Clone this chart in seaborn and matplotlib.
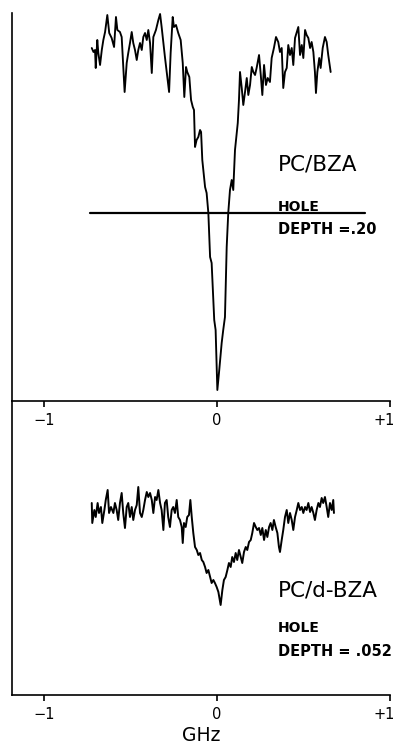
import numpy as np
import pandas as pd
import matplotlib
matplotlib.use("Agg")
import matplotlib.pyplot as plt
import matplotlib.transforms as mtransforms
import seaborn as sns

# ---- data: frequency offset (GHz) and signal (arbitrary units) ----
top_ghz = [-0.724, -0.714, -0.705, -0.701, -0.692, -0.686, -0.676, -0.666, -0.657, -0.647,
           -0.634, -0.623, -0.609, -0.595, -0.584, -0.576, -0.561, -0.551, -0.542, -0.534,
           -0.522, -0.513, -0.503, -0.493, -0.484, -0.474, -0.464, -0.455, -0.445, -0.435,
           -0.426, -0.416, -0.406, -0.397, -0.387, -0.377, -0.368, -0.353, -0.339, -0.329,
           -0.320, -0.310, -0.301, -0.287, -0.277, -0.268, -0.256, -0.249, -0.237, -0.224,
           -0.210, -0.198, -0.189, -0.179, -0.172, -0.160, -0.150, -0.140, -0.133, -0.127,
           -0.118, -0.108, -0.098, -0.092, -0.085, -0.069, -0.060, -0.050, -0.040, -0.031,
           -0.016, -0.008, 0.002, 0.013, 0.027, 0.036, 0.046, 0.056, 0.065, 0.075,
           0.085, 0.094, 0.104, 0.120, 0.127, 0.133, 0.143, 0.152, 0.162, 0.172,
           0.181, 0.191, 0.201, 0.210, 0.220, 0.229, 0.243, 0.253, 0.262, 0.272,
           0.283, 0.293, 0.306, 0.316, 0.329, 0.341, 0.354, 0.364, 0.374, 0.383,
           0.393, 0.403, 0.412, 0.422, 0.432, 0.441, 0.451, 0.461, 0.470, 0.480,
           0.490, 0.499, 0.509, 0.518, 0.528, 0.538, 0.547, 0.557, 0.566, 0.572,
           0.580, 0.591, 0.599, 0.611, 0.624, 0.634, 0.643, 0.657]
top_sig = [353, 349, 351, 333, 361, 348, 336, 351, 361, 369,
           386, 368, 363, 354, 384, 371, 369, 364, 334, 309,
           338, 348, 358, 369, 358, 351, 341, 351, 358, 351,
           364, 368, 361, 371, 358, 328, 364, 371, 381, 387,
           374, 358, 344, 324, 309, 348, 384, 374, 376, 368,
           361, 338, 304, 334, 329, 324, 301, 294, 291, 254,
           261, 264, 271, 269, 241, 214, 208, 188, 144, 138,
           81, 71, 11, 31, 58, 71, 84, 154, 188, 211,
           221, 211, 251, 278, 301, 329, 313, 296, 309, 323,
           306, 316, 334, 329, 326, 333, 346, 326, 306, 336,
           316, 323, 319, 343, 353, 364, 359, 349, 353, 313,
           329, 333, 356, 346, 353, 336, 363, 369, 374, 346,
           356, 343, 371, 366, 363, 353, 359, 349, 329, 308,
           329, 343, 333, 353, 364, 359, 346, 329]

bot_ghz = [-0.724, -0.721, -0.709, -0.701, -0.690, -0.682, -0.671, -0.663, -0.651, -0.643,
           -0.632, -0.624, -0.613, -0.599, -0.590, -0.580, -0.571, -0.561, -0.551, -0.542,
           -0.532, -0.522, -0.513, -0.503, -0.493, -0.484, -0.474, -0.464, -0.455, -0.445,
           -0.435, -0.426, -0.416, -0.406, -0.397, -0.387, -0.377, -0.368, -0.358, -0.349,
           -0.339, -0.329, -0.320, -0.310, -0.301, -0.291, -0.282, -0.272, -0.262, -0.253,
           -0.243, -0.233, -0.224, -0.214, -0.204, -0.198, -0.191, -0.181, -0.172, -0.162,
           -0.154, -0.146, -0.137, -0.127, -0.117, -0.108, -0.098, -0.088, -0.079, -0.069,
           -0.060, -0.050, -0.040, -0.031, -0.021, -0.012, -0.002, 0.008, 0.021, 0.031,
           0.040, 0.050, 0.060, 0.069, 0.079, 0.088, 0.098, 0.108, 0.117, 0.127,
           0.137, 0.146, 0.156, 0.166, 0.175, 0.185, 0.195, 0.204, 0.214, 0.224,
           0.233, 0.243, 0.253, 0.262, 0.272, 0.282, 0.291, 0.301, 0.310, 0.320,
           0.329, 0.339, 0.349, 0.358, 0.364, 0.374, 0.383, 0.393, 0.403, 0.412,
           0.422, 0.432, 0.441, 0.451, 0.461, 0.470, 0.480, 0.490, 0.499, 0.509,
           0.518, 0.528, 0.538, 0.547, 0.557, 0.566, 0.576, 0.586, 0.595, 0.605,
           0.614, 0.624, 0.634, 0.643, 0.653, 0.663, 0.672, 0.676]
bot_sig = [192, 172, 185, 178, 192, 182, 188, 172, 185, 195,
           205, 182, 188, 182, 192, 185, 175, 192, 202, 182,
           167, 188, 192, 178, 188, 175, 185, 190, 208, 182,
           178, 185, 195, 203, 198, 202, 195, 182, 198, 195,
           205, 192, 185, 165, 192, 195, 178, 168, 185, 188,
           182, 195, 178, 175, 168, 152, 172, 168, 178, 180,
           195, 178, 162, 148, 145, 140, 142, 135, 133, 128,
           122, 125, 118, 112, 115, 112, 108, 103, 90, 105,
           115, 118, 125, 132, 128, 138, 133, 142, 135, 145,
           138, 132, 143, 148, 145, 153, 155, 162, 172, 168,
           165, 167, 160, 167, 155, 165, 158, 168, 172, 165,
           175, 168, 162, 148, 143, 155, 165, 178, 185, 172,
           182, 175, 165, 178, 185, 192, 185, 188, 182, 188,
           185, 192, 183, 188, 182, 175, 185, 192, 188, 197,
           192, 198, 188, 178, 192, 185, 195, 182]

tick_vals = [-1, 0, 1]
tick_labels = ["\u22121", "0", "+1"]
hole_line_ghz = [-0.734, 0.855]
hole_line_sig = [188, 188]

top_df = pd.DataFrame({"GHz": top_ghz, "signal": top_sig})
bot_df = pd.DataFrame({"GHz": bot_ghz, "signal": bot_sig})
line_df = pd.DataFrame({"GHz": hole_line_ghz, "signal": hole_line_sig})

sns.set_style("white")
plt.rcParams["font.family"] = ["DejaVu Sans"]
plt.rcParams["text.color"] = "black"
plt.rcParams["xtick.color"] = "black"
plt.rcParams["axes.labelcolor"] = "black"

fig = plt.figure(figsize=(3.98, 7.45), dpi=100)
ax2 = fig.add_axes([12 / 398, (745 - 695) / 745, 378 / 398, 294 / 745])
ax1 = fig.add_axes([12 / 398, (745 - 401) / 745, 378 / 398, 388 / 745])

sns.lineplot(data=top_df, x="GHz", y="signal", ax=ax1, color="black",
             lw=1.35, sort=False, estimator=None)
sns.lineplot(data=line_df, x="GHz", y="signal", ax=ax1, color="black",
             lw=1.6, sort=False, estimator=None)
sns.lineplot(data=bot_df, x="GHz", y="signal", ax=ax2, color="black",
             lw=1.4, sort=False, estimator=None)

shift = mtransforms.ScaledTranslation(-6 / 100, 0, fig.dpi_scale_trans)
for ax, ymax in ((ax1, 388), (ax2, 294)):
    ax.set_xlim(-1.185, 1.0)
    ax.set_ylim(0, ymax)
    ax.patch.set_visible(False)
    for s in ("top", "right"):
        ax.spines[s].set_visible(False)
    for s in ("left", "bottom"):
        ax.spines[s].set_color("black")
        ax.spines[s].set_linewidth(1.2)
    ax.set_yticks([])
    ax.set_ylabel("")
    ax.set_xticks(tick_vals)
    ax.set_xticklabels(tick_labels)
    ax.tick_params(axis="x", direction="out", length=4.5, width=1.2,
                   color="black", labelcolor="black", labelsize=10.5, pad=4, bottom=True)
    lbl = ax.get_xticklabels()[-1]
    lbl.set_transform(lbl.get_transform() + shift)

ax1.set_xlabel("")
ax2.set_xlabel("GHz", fontsize=13.5, labelpad=3)

ax1.text(0.353, 236, "PC/BZA", fontsize=15.5, va="center", ha="left")
ax1.text(0.353, 194, "HOLE", fontsize=10, fontweight="bold", va="center", ha="left")
ax1.text(0.353, 171, "DEPTH =.20", fontsize=10.5, fontweight="bold", va="center", ha="left")

ax2.text(0.353, 105, "PC/d-BZA", fontsize=15.5, va="center", ha="left")
ax2.text(0.353, 67, "HOLE", fontsize=10, fontweight="bold", va="center", ha="left")
ax2.text(0.353, 44, "DEPTH = .052", fontsize=10.5, fontweight="bold", va="center", ha="left")

fig.savefig("out.png", dpi=100, facecolor="white")
